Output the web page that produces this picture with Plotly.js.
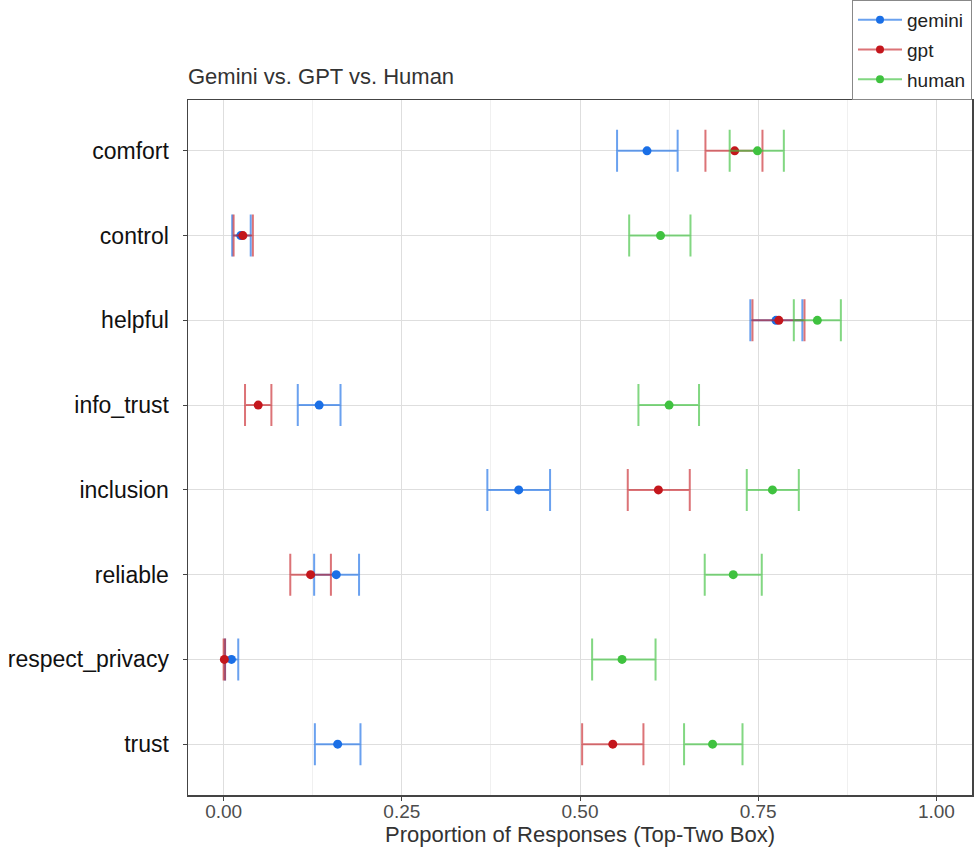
<!DOCTYPE html>
<html><head><meta charset="utf-8">
<script src="https://cdn.plot.ly/plotly-3.0.1.min.js"></script>
<style>html,body{margin:0;padding:0;background:#fff}#chart{width:975px;height:852px}</style>
</head><body><div id="chart"></div>
<script>
const categories = ["comfort","control","helpful","info_trust","inclusion","reliable","respect_privacy","trust"];

const geminiMean = [0.594, 0.024, 0.775, 0.134, 0.414, 0.158, 0.011, 0.160];
const geminiLow  = [0.552, 0.012, 0.739, 0.104, 0.370, 0.127, 0.002, 0.128];
const geminiHigh = [0.637, 0.038, 0.812, 0.164, 0.458, 0.190, 0.0205, 0.192];

const gptMean = [0.717, 0.027, 0.779, 0.0485, 0.610, 0.122, 0.001, 0.546];
const gptLow  = [0.676, 0.014, 0.742, 0.030, 0.567, 0.0935, 0.000, 0.503];
const gptHigh = [0.756, 0.041, 0.815, 0.067, 0.654, 0.1505, 0.002, 0.589];

const humanMean = [0.749, 0.613, 0.833, 0.625, 0.770, 0.715, 0.559, 0.686];
const humanLow  = [0.710, 0.569, 0.800, 0.582, 0.734, 0.675, 0.517, 0.646];
const humanHigh = [0.786, 0.655, 0.866, 0.667, 0.807, 0.755, 0.606, 0.728];

const xTickVals = [0, 0.25, 0.5, 0.75, 1];
const xTickText = ["0.00", "0.25", "0.50", "0.75", "1.00"];

const series = [
  {name: "gemini", mean: geminiMean, lo: geminiLow, hi: geminiHigh, color: "#1a6fe6", bar: "rgba(26,111,230,0.65)"},
  {name: "gpt", mean: gptMean, lo: gptLow, hi: gptHigh, color: "#c4161c", bar: "rgba(196,22,28,0.6)"},
  {name: "human", mean: humanMean, lo: humanLow, hi: humanHigh, color: "#3fc23f", bar: "rgba(63,194,63,0.65)"}
];

const traces = [];
series.forEach(s => {
  traces.push({
    type: "scatter", mode: "markers", name: s.name, legendgroup: s.name, showlegend: false,
    x: s.mean, y: categories,
    marker: {color: s.color, size: 9},
    error_x: {
      type: "data", symmetric: false,
      array: s.hi.map((h, i) => h - s.mean[i]),
      arrayminus: s.mean.map((m, i) => m - s.lo[i]),
      color: s.bar, thickness: 2, width: 21
    },
    hoverinfo: "x+y+name"
  });
});
series.forEach(s => {
  traces.push({
    type: "scatter", mode: "lines+markers", name: s.name, legendgroup: s.name, showlegend: true,
    x: [null], y: [null],
    marker: {color: s.color, size: 8},
    line: {color: s.bar, width: 2}
  });
});

const layout = {
  width: 975, height: 852,
  margin: {l: 188, r: 3, t: 98, b: 57},
  paper_bgcolor: "#fff", plot_bgcolor: "#fff",
  font: {family: "Liberation Sans, Arial, sans-serif", color: "#333"},
  title: {text: "Gemini vs. GPT vs. Human", x: 188/975, xref: "container", xanchor: "left",
          y: 1 - 76/852, yref: "container", yanchor: "middle",
          font: {size: 22, color: "#333"}},
  showlegend: true,
  legend: {x: 1, xref: "paper", xanchor: "right", y: 1, yref: "container", yanchor: "top",
           bgcolor: "#fff", bordercolor: "#888", borderwidth: 1,
           font: {size: 19, color: "#222"}, traceorder: "grouped", tracegroupgap: 2,
           itemwidth: 44},
  xaxis: {
    range: [-0.05, 1.05], tickvals: xTickVals, ticktext: xTickText,
    showgrid: true, gridcolor: "#dedede", gridwidth: 1,
    minor: {dtick: 0.125, tick0: 0, showgrid: true, gridcolor: "#f0f0f0", gridwidth: 1, ticks: ""},
    zeroline: false, showline: true, mirror: true, linecolor: "#444", linewidth: 1.5,
    ticks: "outside", ticklen: 4, tickcolor: "#444", tickwidth: 1,
    tickfont: {size: 19, color: "#4d4d4d"}, ticklabelstandoff: -5,
    title: {text: "Proportion of Responses (Top-Two Box)", font: {size: 22, color: "#333"}, standoff: 0}
  },
  yaxis: {
    type: "category", categoryorder: "array", categoryarray: categories,
    range: [7.6, -0.6],
    showgrid: true, gridcolor: "#dedede", gridwidth: 1,
    zeroline: false, showline: true, mirror: true, linecolor: "#444", linewidth: 1.5,
    ticks: "outside", ticklen: 4, tickcolor: "#444", tickwidth: 1,
    tickfont: {size: 23, color: "#111"}, ticklabelstandoff: 9
  }
};

Plotly.newPlot("chart", traces, layout, {displayModeBar: false, staticPlot: true});
</script>
</body></html>
